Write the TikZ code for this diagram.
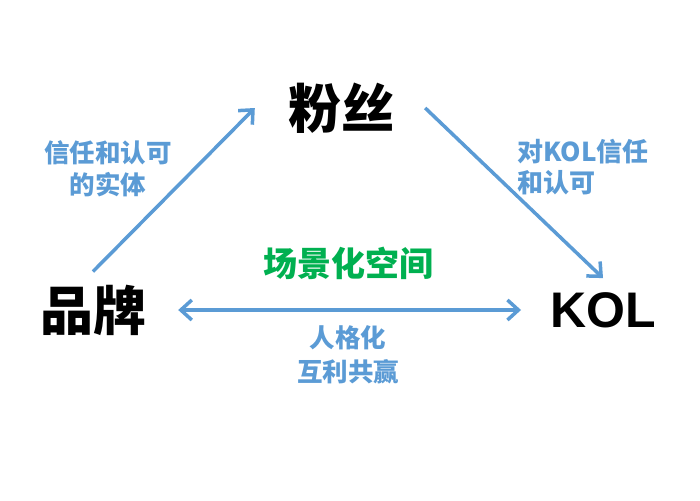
\documentclass[tikz,border=0pt]{standalone}
\usepackage{fontspec}
\usepackage{tikz}
\usetikzlibrary{arrows.meta,positioning}
\setmainfont{Noto Sans CJK SC}
\newfontfamily\kolfont{Liberation Sans}
\definecolor{tiBlue}{RGB}{91,155,213}
\definecolor{tiGreen}{RGB}{0,176,80}
\newcommand{\tisize}[2]{\fontsize{#1}{#2}\selectfont\bfseries}

\begin{document}
\begin{tikzpicture}[x=1pt,y=-1pt,
  corner/.style={inner sep=0pt,font=\tisize{53}{60}},
  note/.style={inner sep=0pt,text=tiBlue,font=\tisize{25.5}{32}},
  link/.style={tiBlue,line width=3.5pt,-{Straight Barb[length=11pt,width=20pt]}}]
  \useasboundingbox (0,0) rectangle (700,500);
  % three corners
  \node[corner] (fensi) at (341,108) {粉丝};
  \node[corner] (pinpai) at (93,310) {品牌};
  \node[corner,font=\kolfont\tisize{50}{60}] (kol) at (603,310) {KOL};
  % labels
  \node[note,align=center] (shiti) at (108,169) {信任和认可\\的实体};
  \node[note,align=left,anchor=west,font=\tisize{26}{31}] (xinren) at (517,167) {对KOL信任\\和认可};
  \node[note,text=tiGreen,font=\tisize{34}{40}] (changjing) at (348,263) {场景化空间};
  \node[note,align=center,font=\tisize{25.5}{34}] (gongying) at (348,355) {人格化\\互利共赢};
  % connectors
  \draw[link] ([yshift=13pt]pinpai.north) -- ([xshift=-33pt]fensi.west);
  \draw[link] ([xshift=31pt]fensi.east) -- ([yshift=14pt]kol.north);
  \draw[link,{Straight Barb[length=11pt,width=20pt]}-{Straight Barb[length=11pt,width=20pt]}] ([xshift=32pt]pinpai.east) -- ([xshift=-29pt]kol.west);
\end{tikzpicture}
\end{document}
